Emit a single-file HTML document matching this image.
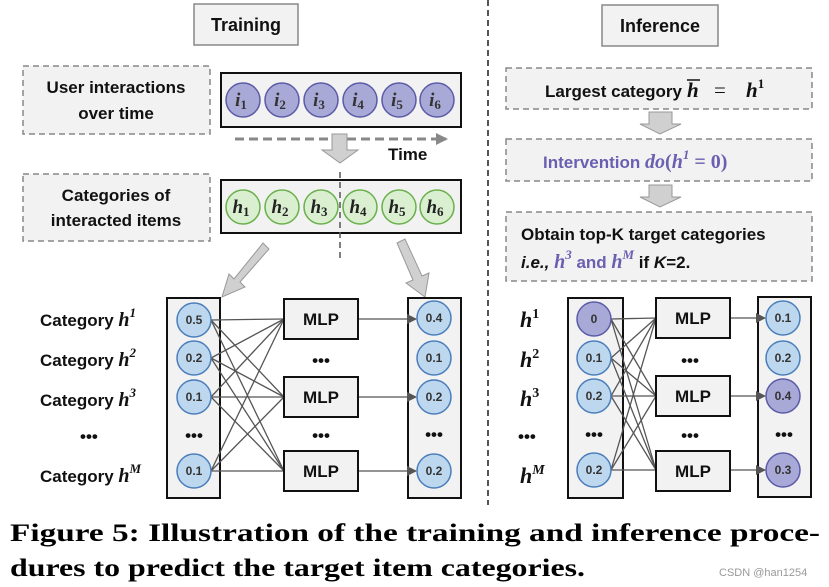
<!DOCTYPE html>
<html><head><meta charset="utf-8"><style>
html,body{margin:0;padding:0;background:#fff;width:829px;height:587px;overflow:hidden}
svg{display:block}
.t{font-family:"Liberation Sans",sans-serif;font-weight:bold;fill:#111}
.m{font-family:"Liberation Serif",serif;font-weight:bold;font-style:italic}
.n{font-family:"Liberation Sans",sans-serif;font-weight:bold;font-size:12px;fill:#333;text-anchor:middle}
.cap{font-family:"Liberation Serif",serif;font-weight:bold;font-size:25px;fill:#000}
</style></head><body>
<svg width="829" height="587" viewBox="0 0 829 587" xmlns="http://www.w3.org/2000/svg">
<defs>
<marker id="ah" markerWidth="10" markerHeight="10" refX="9" refY="5" orient="auto" markerUnits="userSpaceOnUse">
<path d="M0,0 L10,5 L0,10 z" fill="#555"/></marker>
<marker id="ta" markerWidth="12" markerHeight="12" refX="10" refY="6" orient="auto" markerUnits="userSpaceOnUse">
<path d="M0,0 L12,6 L0,12 z" fill="#888"/></marker>
</defs>
<line x1="488" y1="0" x2="488" y2="505" stroke="#555" stroke-width="2" stroke-dasharray="6,4"/>
<rect x="194" y="4" width="104" height="41" fill="#f2f2f2" stroke="#888" stroke-width="1.5"/>
<text x="246" y="31" class="t" font-size="18" text-anchor="middle">Training</text>
<rect x="602" y="5" width="116" height="41" fill="#f2f2f2" stroke="#888" stroke-width="1.5"/>
<text x="660" y="32" class="t" font-size="18" text-anchor="middle">Inference</text>

<rect x="23" y="66" width="187" height="68" fill="#f2f2f2" stroke="#888" stroke-width="1.5" stroke-dasharray="6,4"/>
<text x="116" y="93" class="t" font-size="17" text-anchor="middle">User interactions</text>
<text x="116" y="119" class="t" font-size="17" text-anchor="middle">over time</text>
<rect x="221" y="73" width="240" height="54" fill="#f2f2f2" stroke="#111" stroke-width="2"/>
<g fill="#a9a9d8" stroke="#5b5ba8" stroke-width="1.5">
<circle cx="243" cy="100" r="17"/><circle cx="282" cy="100" r="17"/><circle cx="321" cy="100" r="17"/>
<circle cx="360" cy="100" r="17"/><circle cx="399" cy="100" r="17"/><circle cx="437" cy="100" r="17"/>
</g>
<g class="m" font-size="19" fill="#333" text-anchor="middle">
<text x="241" y="106">i<tspan font-size="13" font-style="normal" dy="3">1</tspan></text>
<text x="280" y="106">i<tspan font-size="13" font-style="normal" dy="3">2</tspan></text>
<text x="319" y="106">i<tspan font-size="13" font-style="normal" dy="3">3</tspan></text>
<text x="358" y="106">i<tspan font-size="13" font-style="normal" dy="3">4</tspan></text>
<text x="397" y="106">i<tspan font-size="13" font-style="normal" dy="3">5</tspan></text>
<text x="435" y="106">i<tspan font-size="13" font-style="normal" dy="3">6</tspan></text>
</g>
<line x1="235" y1="139" x2="446" y2="139" stroke="#888" stroke-width="3" stroke-dasharray="9,5" marker-end="url(#ta)"/>
<text x="388" y="160" class="t" font-size="17" fill="#333">Time</text>
<path d="M332,134 H347 V150 H358 L340,163 L322,150 H332 Z" fill="#d0d0d0" stroke="#999" stroke-width="1"/>

<rect x="23" y="174" width="187" height="67" fill="#f2f2f2" stroke="#888" stroke-width="1.5" stroke-dasharray="6,4"/>
<text x="116" y="201" class="t" font-size="17" text-anchor="middle">Categories of</text>
<text x="116" y="226" class="t" font-size="17" text-anchor="middle">interacted items</text>
<rect x="221" y="180" width="240" height="53" fill="#f2f2f2" stroke="#111" stroke-width="2"/>
<g fill="#d9efd0" stroke="#6ab04c" stroke-width="1.5">
<circle cx="243" cy="207" r="17"/><circle cx="282" cy="207" r="17"/><circle cx="321" cy="207" r="17"/>
<circle cx="360" cy="207" r="17"/><circle cx="399" cy="207" r="17"/><circle cx="437" cy="207" r="17"/>
</g>
<g class="m" font-size="19" fill="#222" text-anchor="middle">
<text x="241" y="213">h<tspan font-size="13" font-style="normal" dy="3">1</tspan></text>
<text x="280" y="213">h<tspan font-size="13" font-style="normal" dy="3">2</tspan></text>
<text x="319" y="213">h<tspan font-size="13" font-style="normal" dy="3">3</tspan></text>
<text x="358" y="213">h<tspan font-size="13" font-style="normal" dy="3">4</tspan></text>
<text x="397" y="213">h<tspan font-size="13" font-style="normal" dy="3">5</tspan></text>
<text x="435" y="213">h<tspan font-size="13" font-style="normal" dy="3">6</tspan></text>
</g>
<line x1="340" y1="172" x2="340" y2="258" stroke="#555" stroke-width="1.5" stroke-dasharray="6,4"/>
<path d="M263,243 L269,249 L240,282 L245,287 L222,297 L229,274 L234,279 Z" fill="#d0d0d0" stroke="#999" stroke-width="1"/>
<path d="M397,243 L405,239 L422,276 L429,273 L425,297 L406,283 L413,280 Z" fill="#d0d0d0" stroke="#999" stroke-width="1"/>

<g class="t" font-size="17">
<text x="40" y="326">Category <tspan class="m" font-size="20">h</tspan><tspan class="m" font-size="13" font-style="normal" dy="-9">1</tspan></text>
<text x="40" y="366">Category <tspan class="m" font-size="20">h</tspan><tspan class="m" font-size="13" font-style="normal" dy="-9">2</tspan></text>
<text x="40" y="406">Category <tspan class="m" font-size="20">h</tspan><tspan class="m" font-size="13" font-style="normal" dy="-9">3</tspan></text>
<text x="80" y="442">•••</text>
<text x="40" y="482">Category <tspan class="m" font-size="20">h</tspan><tspan class="m" font-size="13" dy="-9">M</tspan></text>
</g>
<rect x="167" y="298" width="53" height="200" fill="#f2f2f2" stroke="#111" stroke-width="2"/>
<rect x="408" y="298" width="53" height="200" fill="#f2f2f2" stroke="#111" stroke-width="2"/>
<g stroke="#555" stroke-width="1.3">
<line x1="211" y1="320" x2="284" y2="319"/><line x1="211" y1="320" x2="284" y2="397"/><line x1="211" y1="320" x2="284" y2="471"/>
<line x1="211" y1="358" x2="284" y2="319"/><line x1="211" y1="358" x2="284" y2="397"/><line x1="211" y1="358" x2="284" y2="471"/>
<line x1="211" y1="397" x2="284" y2="319"/><line x1="211" y1="397" x2="284" y2="397"/><line x1="211" y1="397" x2="284" y2="471"/>
<line x1="211" y1="471" x2="284" y2="319"/><line x1="211" y1="471" x2="284" y2="397"/><line x1="211" y1="471" x2="284" y2="471"/>
<line x1="358" y1="319" x2="416" y2="319" marker-end="url(#ah)"/>
<line x1="358" y1="397" x2="416" y2="397" marker-end="url(#ah)"/>
<line x1="358" y1="471" x2="416" y2="471" marker-end="url(#ah)"/>
</g>
<g fill="#bdd7ee" stroke="#4a7ebb" stroke-width="1.5">
<circle cx="194" cy="320" r="17"/><circle cx="194" cy="358" r="17"/><circle cx="194" cy="397" r="17"/><circle cx="194" cy="471" r="17"/>
<circle cx="434" cy="318" r="17"/><circle cx="434" cy="358" r="17"/><circle cx="434" cy="397" r="17"/><circle cx="434" cy="471" r="17"/>
</g>
<g class="n">
<text x="194" y="324">0.5</text><text x="194" y="362">0.2</text><text x="194" y="401">0.1</text><text x="194" y="475">0.1</text>
<text x="434" y="322">0.4</text><text x="434" y="362">0.1</text><text x="434" y="401">0.2</text><text x="434" y="475">0.2</text>
</g>
<g fill="#f2f2f2" stroke="#111" stroke-width="2">
<rect x="284" y="299" width="74" height="40"/><rect x="284" y="377" width="74" height="40"/><rect x="284" y="451" width="74" height="40"/>
</g>
<g class="t" font-size="17" text-anchor="middle">
<text x="321" y="325">MLP</text><text x="321" y="403">MLP</text><text x="321" y="477">MLP</text>
<text x="321" y="366">•••</text><text x="321" y="441">•••</text><text x="194" y="441">•••</text><text x="434" y="440">•••</text>
</g>

<rect x="506" y="68" width="306" height="41" fill="#f2f2f2" stroke="#888" stroke-width="1.5" stroke-dasharray="6,4"/>
<text x="545" y="97" class="t" font-size="17">Largest category</text>
<text x="687" y="97" class="m" font-size="21" fill="#111">h</text>
<line x1="687" y1="80" x2="700" y2="80" stroke="#111" stroke-width="1.5"/>
<text x="714" y="97" font-family="Liberation Serif,serif" font-size="21" fill="#111">=</text>
<text x="746" y="97" class="m" font-size="21" fill="#111">h<tspan font-size="13" font-style="normal" dy="-9">1</tspan></text>
<path d="M649,112 H672 V124 H681 L660,134 L640,124 H649 Z" fill="#d0d0d0" stroke="#999"/>
<rect x="506" y="139" width="306" height="42" fill="#f2f2f2" stroke="#888" stroke-width="1.5" stroke-dasharray="6,4"/>
<text x="543" y="168" class="t" font-size="17" style="fill:#6a5fb0">Intervention <tspan class="m" font-size="20">do</tspan><tspan font-family="Liberation Serif" font-size="20">(</tspan><tspan class="m" font-size="20">h</tspan><tspan class="m" font-size="13" font-style="normal" dy="-9">1</tspan><tspan font-family="Liberation Serif" font-size="20" dy="9"> = 0)</tspan></text>
<path d="M649,185 H672 V197 H681 L660,207 L640,197 H649 Z" fill="#d0d0d0" stroke="#999"/>
<rect x="506" y="212" width="306" height="69" fill="#f2f2f2" stroke="#888" stroke-width="1.5" stroke-dasharray="6,4"/>
<text x="521" y="240" class="t" font-size="17">Obtain top-K target categories</text>
<text x="521" y="268" class="t" font-size="17"><tspan font-style="italic">i.e.,</tspan> <tspan class="m" font-size="20" style="fill:#6a5fb0">h</tspan><tspan class="m" font-size="13" font-style="normal" dy="-9" style="fill:#6a5fb0">3</tspan><tspan dy="9" style="fill:#6a5fb0"> and </tspan><tspan class="m" font-size="20" style="fill:#6a5fb0">h</tspan><tspan class="m" font-size="13" dy="-9" style="fill:#6a5fb0">M</tspan><tspan dy="9"> if </tspan><tspan font-style="italic">K</tspan>=2.</text>

<g class="m" font-size="22" fill="#111">
<text x="520" y="327">h<tspan font-size="14" font-style="normal" dy="-9">1</tspan></text>
<text x="520" y="367">h<tspan font-size="14" font-style="normal" dy="-9">2</tspan></text>
<text x="520" y="406">h<tspan font-size="14" font-style="normal" dy="-9">3</tspan></text>
<text x="520" y="483">h<tspan font-size="14" dy="-9">M</tspan></text>
</g>
<text x="518" y="442" class="t" font-size="17">•••</text>
<rect x="568" y="298" width="55" height="200" fill="#f2f2f2" stroke="#111" stroke-width="2"/>
<rect x="758" y="297" width="53" height="200" fill="#f2f2f2" stroke="#111" stroke-width="2"/>
<g stroke="#555" stroke-width="1.3">
<line x1="611" y1="319" x2="656" y2="318"/><line x1="611" y1="319" x2="656" y2="396"/><line x1="611" y1="319" x2="656" y2="470"/>
<line x1="611" y1="358" x2="656" y2="318"/><line x1="611" y1="358" x2="656" y2="396"/><line x1="611" y1="358" x2="656" y2="470"/>
<line x1="611" y1="396" x2="656" y2="318"/><line x1="611" y1="396" x2="656" y2="396"/><line x1="611" y1="396" x2="656" y2="470"/>
<line x1="611" y1="470" x2="656" y2="318"/><line x1="611" y1="470" x2="656" y2="396"/><line x1="611" y1="470" x2="656" y2="470"/>
<line x1="730" y1="318" x2="765" y2="318" marker-end="url(#ah)"/>
<line x1="730" y1="396" x2="765" y2="396" marker-end="url(#ah)"/>
<line x1="730" y1="470" x2="765" y2="470" marker-end="url(#ah)"/>
</g>
<g stroke-width="1.5">
<circle cx="594" cy="319" r="17" fill="#a9a9d8" stroke="#5b5ba8"/>
<circle cx="594" cy="358" r="17" fill="#bdd7ee" stroke="#4a7ebb"/>
<circle cx="594" cy="396" r="17" fill="#bdd7ee" stroke="#4a7ebb"/>
<circle cx="594" cy="470" r="17" fill="#bdd7ee" stroke="#4a7ebb"/>
<circle cx="783" cy="318" r="17" fill="#bdd7ee" stroke="#4a7ebb"/>
<circle cx="783" cy="358" r="17" fill="#bdd7ee" stroke="#4a7ebb"/>
<circle cx="783" cy="396" r="17" fill="#a9a9d8" stroke="#5b5ba8"/>
<circle cx="783" cy="470" r="17" fill="#a9a9d8" stroke="#5b5ba8"/>
</g>
<g class="n">
<text x="594" y="323">0</text><text x="594" y="362">0.1</text><text x="594" y="400">0.2</text><text x="594" y="474">0.2</text>
<text x="783" y="322">0.1</text><text x="783" y="362">0.2</text><text x="783" y="400">0.4</text><text x="783" y="474">0.3</text>
</g>
<g fill="#f2f2f2" stroke="#111" stroke-width="2">
<rect x="656" y="298" width="74" height="40"/><rect x="656" y="376" width="74" height="40"/><rect x="656" y="451" width="74" height="40"/>
</g>
<g class="t" font-size="17" text-anchor="middle">
<text x="693" y="324">MLP</text><text x="693" y="402">MLP</text><text x="693" y="477">MLP</text>
<text x="690" y="366">•••</text><text x="690" y="441">•••</text><text x="594" y="440">•••</text><text x="784" y="440">•••</text>
</g>

<text x="10" y="541" class="cap" textLength="810" lengthAdjust="spacingAndGlyphs">Figure 5: Illustration of the training and inference proce-</text>
<text x="10" y="576" class="cap" textLength="575" lengthAdjust="spacingAndGlyphs">dures to predict the target item categories.</text>
<text x="719" y="576" font-family="Liberation Sans,sans-serif" font-size="11" fill="#999">CSDN @han1254</text>
</svg>
</body></html>
